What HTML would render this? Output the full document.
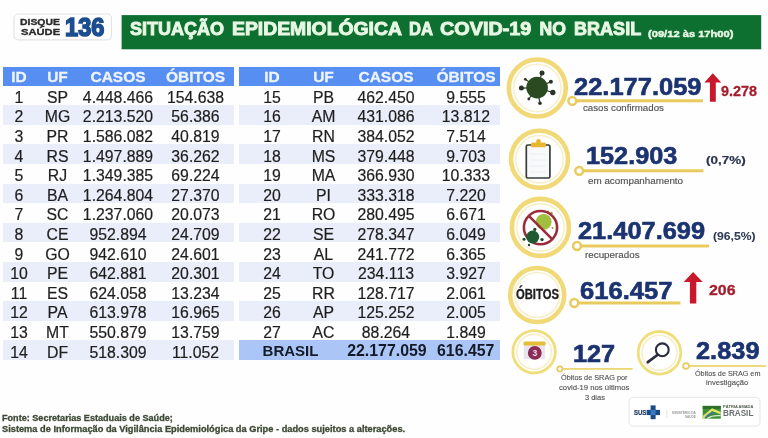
<!DOCTYPE html>
<html><head><meta charset="utf-8">
<style>
*{margin:0;padding:0;box-sizing:border-box}
html,body{width:768px;height:438px;overflow:hidden;background:#fefefe}
body{position:relative;font-family:"Liberation Sans",sans-serif}
.t{position:absolute;white-space:nowrap;transform-origin:0 0}
.c{position:absolute;text-align:center;white-space:nowrap}
.hb{position:absolute;background:#578ef2}
.band{position:absolute;background:#eaeefa}
.bb{position:absolute;background:#abc6f6}
.h{font-weight:bold;font-size:15.5px;color:#eef4ff;-webkit-text-stroke:0.3px #eef4ff}
.d{font-size:15.8px;color:#1e1e1e;-webkit-text-stroke:0.2px #1e1e1e}
.b{font-weight:bold;font-size:15px;color:#151a28}
.b2{font-weight:bold;font-size:15.9px;color:#151a28}
svg{position:absolute;left:0;top:0}
#wrap{position:absolute;left:0;top:0;width:768px;height:438px;overflow:hidden;filter:blur(0.3px)}
</style></head><body><div id="wrap">
<svg width="768" height="438" viewBox="0 0 768 438">
 <!-- disque saude box -->
 <rect x="14" y="14" width="97.5" height="25.8" rx="4.5" fill="#fff" stroke="#e3e3e3" stroke-width="1.2"/>
 <!-- green title bar -->
 <rect x="121.6" y="15.1" width="639.6" height="34.2" fill="#0e7030"/>
</svg>
<div class="hb" style="left:3px;top:66.6px;width:230.5px;height:19.0px"></div>
<div class="c h" style="left:-31.0px;top:67.1px;width:100px;height:19.0px;line-height:19.0px">ID</div>
<div class="c h" style="left:7.5px;top:67.1px;width:100px;height:19.0px;line-height:19.0px">UF</div>
<div class="c h" style="left:68.0px;top:67.1px;width:100px;height:19.0px;line-height:19.0px">CASOS</div>
<div class="c h" style="left:145.5px;top:67.1px;width:100px;height:19.0px;line-height:19.0px">ÓBITOS</div>
<div class="hb" style="left:239px;top:66.6px;width:261px;height:19.0px"></div>
<div class="c h" style="left:222.0px;top:67.1px;width:100px;height:19.0px;line-height:19.0px">ID</div>
<div class="c h" style="left:273.5px;top:67.1px;width:100px;height:19.0px;line-height:19.0px">UF</div>
<div class="c h" style="left:336.0px;top:67.1px;width:100px;height:19.0px;line-height:19.0px">CASOS</div>
<div class="c h" style="left:416.0px;top:67.1px;width:100px;height:19.0px;line-height:19.0px">ÓBITOS</div>
<div class="c d" style="left:-31.0px;top:87.7px;width:100px;height:19.6px;line-height:19.6px">1</div>
<div class="c d" style="left:7.5px;top:87.7px;width:100px;height:19.6px;line-height:19.6px">SP</div>
<div class="c d" style="left:68.0px;top:87.7px;width:100px;height:19.6px;line-height:19.6px">4.448.466</div>
<div class="c d" style="left:145.5px;top:87.7px;width:100px;height:19.6px;line-height:19.6px">154.638</div>
<div class="band" style="left:3px;top:105.2px;width:230.5px;height:19.6px"></div>
<div class="c d" style="left:-31.0px;top:107.3px;width:100px;height:19.6px;line-height:19.6px">2</div>
<div class="c d" style="left:7.5px;top:107.3px;width:100px;height:19.6px;line-height:19.6px">MG</div>
<div class="c d" style="left:68.0px;top:107.3px;width:100px;height:19.6px;line-height:19.6px">2.213.520</div>
<div class="c d" style="left:145.5px;top:107.3px;width:100px;height:19.6px;line-height:19.6px">56.386</div>
<div class="c d" style="left:-31.0px;top:126.9px;width:100px;height:19.6px;line-height:19.6px">3</div>
<div class="c d" style="left:7.5px;top:126.9px;width:100px;height:19.6px;line-height:19.6px">PR</div>
<div class="c d" style="left:68.0px;top:126.9px;width:100px;height:19.6px;line-height:19.6px">1.586.082</div>
<div class="c d" style="left:145.5px;top:126.9px;width:100px;height:19.6px;line-height:19.6px">40.819</div>
<div class="band" style="left:3px;top:144.4px;width:230.5px;height:19.6px"></div>
<div class="c d" style="left:-31.0px;top:146.5px;width:100px;height:19.6px;line-height:19.6px">4</div>
<div class="c d" style="left:7.5px;top:146.5px;width:100px;height:19.6px;line-height:19.6px">RS</div>
<div class="c d" style="left:68.0px;top:146.5px;width:100px;height:19.6px;line-height:19.6px">1.497.889</div>
<div class="c d" style="left:145.5px;top:146.5px;width:100px;height:19.6px;line-height:19.6px">36.262</div>
<div class="c d" style="left:-31.0px;top:166.1px;width:100px;height:19.6px;line-height:19.6px">5</div>
<div class="c d" style="left:7.5px;top:166.1px;width:100px;height:19.6px;line-height:19.6px">RJ</div>
<div class="c d" style="left:68.0px;top:166.1px;width:100px;height:19.6px;line-height:19.6px">1.349.385</div>
<div class="c d" style="left:145.5px;top:166.1px;width:100px;height:19.6px;line-height:19.6px">69.224</div>
<div class="band" style="left:3px;top:183.6px;width:230.5px;height:19.6px"></div>
<div class="c d" style="left:-31.0px;top:185.7px;width:100px;height:19.6px;line-height:19.6px">6</div>
<div class="c d" style="left:7.5px;top:185.7px;width:100px;height:19.6px;line-height:19.6px">BA</div>
<div class="c d" style="left:68.0px;top:185.7px;width:100px;height:19.6px;line-height:19.6px">1.264.804</div>
<div class="c d" style="left:145.5px;top:185.7px;width:100px;height:19.6px;line-height:19.6px">27.370</div>
<div class="c d" style="left:-31.0px;top:205.3px;width:100px;height:19.6px;line-height:19.6px">7</div>
<div class="c d" style="left:7.5px;top:205.3px;width:100px;height:19.6px;line-height:19.6px">SC</div>
<div class="c d" style="left:68.0px;top:205.3px;width:100px;height:19.6px;line-height:19.6px">1.237.060</div>
<div class="c d" style="left:145.5px;top:205.3px;width:100px;height:19.6px;line-height:19.6px">20.073</div>
<div class="band" style="left:3px;top:222.8px;width:230.5px;height:19.6px"></div>
<div class="c d" style="left:-31.0px;top:224.9px;width:100px;height:19.6px;line-height:19.6px">8</div>
<div class="c d" style="left:7.5px;top:224.9px;width:100px;height:19.6px;line-height:19.6px">CE</div>
<div class="c d" style="left:68.0px;top:224.9px;width:100px;height:19.6px;line-height:19.6px">952.894</div>
<div class="c d" style="left:145.5px;top:224.9px;width:100px;height:19.6px;line-height:19.6px">24.709</div>
<div class="c d" style="left:-31.0px;top:244.5px;width:100px;height:19.6px;line-height:19.6px">9</div>
<div class="c d" style="left:7.5px;top:244.5px;width:100px;height:19.6px;line-height:19.6px">GO</div>
<div class="c d" style="left:68.0px;top:244.5px;width:100px;height:19.6px;line-height:19.6px">942.610</div>
<div class="c d" style="left:145.5px;top:244.5px;width:100px;height:19.6px;line-height:19.6px">24.601</div>
<div class="band" style="left:3px;top:262.0px;width:230.5px;height:19.6px"></div>
<div class="c d" style="left:-31.0px;top:264.1px;width:100px;height:19.6px;line-height:19.6px">10</div>
<div class="c d" style="left:7.5px;top:264.1px;width:100px;height:19.6px;line-height:19.6px">PE</div>
<div class="c d" style="left:68.0px;top:264.1px;width:100px;height:19.6px;line-height:19.6px">642.881</div>
<div class="c d" style="left:145.5px;top:264.1px;width:100px;height:19.6px;line-height:19.6px">20.301</div>
<div class="c d" style="left:-31.0px;top:283.7px;width:100px;height:19.6px;line-height:19.6px">11</div>
<div class="c d" style="left:7.5px;top:283.7px;width:100px;height:19.6px;line-height:19.6px">ES</div>
<div class="c d" style="left:68.0px;top:283.7px;width:100px;height:19.6px;line-height:19.6px">624.058</div>
<div class="c d" style="left:145.5px;top:283.7px;width:100px;height:19.6px;line-height:19.6px">13.234</div>
<div class="band" style="left:3px;top:301.2px;width:230.5px;height:19.6px"></div>
<div class="c d" style="left:-31.0px;top:303.3px;width:100px;height:19.6px;line-height:19.6px">12</div>
<div class="c d" style="left:7.5px;top:303.3px;width:100px;height:19.6px;line-height:19.6px">PA</div>
<div class="c d" style="left:68.0px;top:303.3px;width:100px;height:19.6px;line-height:19.6px">613.978</div>
<div class="c d" style="left:145.5px;top:303.3px;width:100px;height:19.6px;line-height:19.6px">16.965</div>
<div class="c d" style="left:-31.0px;top:322.9px;width:100px;height:19.6px;line-height:19.6px">13</div>
<div class="c d" style="left:7.5px;top:322.9px;width:100px;height:19.6px;line-height:19.6px">MT</div>
<div class="c d" style="left:68.0px;top:322.9px;width:100px;height:19.6px;line-height:19.6px">550.879</div>
<div class="c d" style="left:145.5px;top:322.9px;width:100px;height:19.6px;line-height:19.6px">13.759</div>
<div class="band" style="left:3px;top:340.4px;width:230.5px;height:19.6px"></div>
<div class="c d" style="left:-31.0px;top:342.5px;width:100px;height:19.6px;line-height:19.6px">14</div>
<div class="c d" style="left:7.5px;top:342.5px;width:100px;height:19.6px;line-height:19.6px">DF</div>
<div class="c d" style="left:68.0px;top:342.5px;width:100px;height:19.6px;line-height:19.6px">518.309</div>
<div class="c d" style="left:145.5px;top:342.5px;width:100px;height:19.6px;line-height:19.6px">11.052</div>
<div class="c d" style="left:222.0px;top:87.7px;width:100px;height:19.6px;line-height:19.6px">15</div>
<div class="c d" style="left:273.5px;top:87.7px;width:100px;height:19.6px;line-height:19.6px">PB</div>
<div class="c d" style="left:336.0px;top:87.7px;width:100px;height:19.6px;line-height:19.6px">462.450</div>
<div class="c d" style="left:416.0px;top:87.7px;width:100px;height:19.6px;line-height:19.6px">9.555</div>
<div class="band" style="left:239px;top:105.2px;width:261px;height:19.6px"></div>
<div class="c d" style="left:222.0px;top:107.3px;width:100px;height:19.6px;line-height:19.6px">16</div>
<div class="c d" style="left:273.5px;top:107.3px;width:100px;height:19.6px;line-height:19.6px">AM</div>
<div class="c d" style="left:336.0px;top:107.3px;width:100px;height:19.6px;line-height:19.6px">431.086</div>
<div class="c d" style="left:416.0px;top:107.3px;width:100px;height:19.6px;line-height:19.6px">13.812</div>
<div class="c d" style="left:222.0px;top:126.9px;width:100px;height:19.6px;line-height:19.6px">17</div>
<div class="c d" style="left:273.5px;top:126.9px;width:100px;height:19.6px;line-height:19.6px">RN</div>
<div class="c d" style="left:336.0px;top:126.9px;width:100px;height:19.6px;line-height:19.6px">384.052</div>
<div class="c d" style="left:416.0px;top:126.9px;width:100px;height:19.6px;line-height:19.6px">7.514</div>
<div class="band" style="left:239px;top:144.4px;width:261px;height:19.6px"></div>
<div class="c d" style="left:222.0px;top:146.5px;width:100px;height:19.6px;line-height:19.6px">18</div>
<div class="c d" style="left:273.5px;top:146.5px;width:100px;height:19.6px;line-height:19.6px">MS</div>
<div class="c d" style="left:336.0px;top:146.5px;width:100px;height:19.6px;line-height:19.6px">379.448</div>
<div class="c d" style="left:416.0px;top:146.5px;width:100px;height:19.6px;line-height:19.6px">9.703</div>
<div class="c d" style="left:222.0px;top:166.1px;width:100px;height:19.6px;line-height:19.6px">19</div>
<div class="c d" style="left:273.5px;top:166.1px;width:100px;height:19.6px;line-height:19.6px">MA</div>
<div class="c d" style="left:336.0px;top:166.1px;width:100px;height:19.6px;line-height:19.6px">366.930</div>
<div class="c d" style="left:416.0px;top:166.1px;width:100px;height:19.6px;line-height:19.6px">10.333</div>
<div class="band" style="left:239px;top:183.6px;width:261px;height:19.6px"></div>
<div class="c d" style="left:222.0px;top:185.7px;width:100px;height:19.6px;line-height:19.6px">20</div>
<div class="c d" style="left:273.5px;top:185.7px;width:100px;height:19.6px;line-height:19.6px">PI</div>
<div class="c d" style="left:336.0px;top:185.7px;width:100px;height:19.6px;line-height:19.6px">333.318</div>
<div class="c d" style="left:416.0px;top:185.7px;width:100px;height:19.6px;line-height:19.6px">7.220</div>
<div class="c d" style="left:222.0px;top:205.3px;width:100px;height:19.6px;line-height:19.6px">21</div>
<div class="c d" style="left:273.5px;top:205.3px;width:100px;height:19.6px;line-height:19.6px">RO</div>
<div class="c d" style="left:336.0px;top:205.3px;width:100px;height:19.6px;line-height:19.6px">280.495</div>
<div class="c d" style="left:416.0px;top:205.3px;width:100px;height:19.6px;line-height:19.6px">6.671</div>
<div class="band" style="left:239px;top:222.8px;width:261px;height:19.6px"></div>
<div class="c d" style="left:222.0px;top:224.9px;width:100px;height:19.6px;line-height:19.6px">22</div>
<div class="c d" style="left:273.5px;top:224.9px;width:100px;height:19.6px;line-height:19.6px">SE</div>
<div class="c d" style="left:336.0px;top:224.9px;width:100px;height:19.6px;line-height:19.6px">278.347</div>
<div class="c d" style="left:416.0px;top:224.9px;width:100px;height:19.6px;line-height:19.6px">6.049</div>
<div class="c d" style="left:222.0px;top:244.5px;width:100px;height:19.6px;line-height:19.6px">23</div>
<div class="c d" style="left:273.5px;top:244.5px;width:100px;height:19.6px;line-height:19.6px">AL</div>
<div class="c d" style="left:336.0px;top:244.5px;width:100px;height:19.6px;line-height:19.6px">241.772</div>
<div class="c d" style="left:416.0px;top:244.5px;width:100px;height:19.6px;line-height:19.6px">6.365</div>
<div class="band" style="left:239px;top:262.0px;width:261px;height:19.6px"></div>
<div class="c d" style="left:222.0px;top:264.1px;width:100px;height:19.6px;line-height:19.6px">24</div>
<div class="c d" style="left:273.5px;top:264.1px;width:100px;height:19.6px;line-height:19.6px">TO</div>
<div class="c d" style="left:336.0px;top:264.1px;width:100px;height:19.6px;line-height:19.6px">234.113</div>
<div class="c d" style="left:416.0px;top:264.1px;width:100px;height:19.6px;line-height:19.6px">3.927</div>
<div class="c d" style="left:222.0px;top:283.7px;width:100px;height:19.6px;line-height:19.6px">25</div>
<div class="c d" style="left:273.5px;top:283.7px;width:100px;height:19.6px;line-height:19.6px">RR</div>
<div class="c d" style="left:336.0px;top:283.7px;width:100px;height:19.6px;line-height:19.6px">128.717</div>
<div class="c d" style="left:416.0px;top:283.7px;width:100px;height:19.6px;line-height:19.6px">2.061</div>
<div class="band" style="left:239px;top:301.2px;width:261px;height:19.6px"></div>
<div class="c d" style="left:222.0px;top:303.3px;width:100px;height:19.6px;line-height:19.6px">26</div>
<div class="c d" style="left:273.5px;top:303.3px;width:100px;height:19.6px;line-height:19.6px">AP</div>
<div class="c d" style="left:336.0px;top:303.3px;width:100px;height:19.6px;line-height:19.6px">125.252</div>
<div class="c d" style="left:416.0px;top:303.3px;width:100px;height:19.6px;line-height:19.6px">2.005</div>
<div class="c d" style="left:222.0px;top:322.9px;width:100px;height:19.6px;line-height:19.6px">27</div>
<div class="c d" style="left:273.5px;top:322.9px;width:100px;height:19.6px;line-height:19.6px">AC</div>
<div class="c d" style="left:336.0px;top:322.9px;width:100px;height:19.6px;line-height:19.6px">88.264</div>
<div class="c d" style="left:416.0px;top:322.9px;width:100px;height:19.6px;line-height:19.6px">1.849</div>
<div class="bb" style="left:239px;top:340.4px;width:261px;height:19.6px"></div>
<div class="c b" style="left:240.5px;top:341.2px;width:100px;height:19.6px;line-height:19.6px">BRASIL</div>
<div class="c b2" style="left:336.9px;top:341.2px;width:100px;height:19.6px;line-height:19.6px">22.177.059</div>
<div class="c b2" style="left:415.7px;top:341.2px;width:100px;height:19.6px;line-height:19.6px">616.457</div>
<svg width="768" height="438" viewBox="0 0 768 438">
 <g fill="#fff" stroke="#f1d977">
  <circle cx="537.3" cy="88" r="28.5" stroke-width="4.6"/>
  <circle cx="539.5" cy="159.2" r="28.5" stroke-width="4.6"/>
  <circle cx="540.4" cy="227.4" r="28.5" stroke-width="4.6"/>
  <circle cx="537.2" cy="295" r="27" stroke-width="4.5"/>
  <circle cx="534.1" cy="351.8" r="21.2" stroke-width="2.8" stroke="#f0de7a"/>
  <circle cx="659.5" cy="352.8" r="21.3" stroke-width="2.8" stroke="#f0de7a"/>
 </g>
 <g fill="none" stroke="#f8efca" stroke-width="1.6">
  <circle cx="537.3" cy="88" r="23.75"/>
  <circle cx="539.5" cy="159.2" r="23.75"/>
  <circle cx="540.4" cy="227.4" r="23.75"/>
  <circle cx="537.2" cy="295" r="22.50"/>
  <circle cx="534.1" cy="351.8" r="17.40"/>
  <circle cx="659.5" cy="352.8" r="17.50"/>
 </g>
 <!-- lines -->
 <g fill="#e9ca5c">
  <rect x="572" y="99.3" width="131" height="3"/>
  <rect x="579" y="169.3" width="124.5" height="3"/>
  <rect x="577" y="244.5" width="132" height="3"/>
  <rect x="574" y="301.5" width="106.5" height="3"/>
  <rect x="559.8" y="368" width="72.9" height="1.8" fill="#ecd672"/>
  <rect x="686" y="365.1" width="80" height="1.8" fill="#ecd672"/>
 </g>
 <g fill="#fff" stroke="#e9ca5c">
  <circle cx="572.3" cy="100.9" r="3.9" stroke-width="2.5"/>
  <circle cx="579.2" cy="170.8" r="3.9" stroke-width="2.5"/>
  <circle cx="577" cy="246" r="3.9" stroke-width="2.5"/>
  <circle cx="574.3" cy="303" r="3.9" stroke-width="2.5"/>
  <circle cx="559.8" cy="368.9" r="2.6" stroke-width="1.7"/>
  <circle cx="686" cy="366" r="2.9" stroke-width="1.8"/>
 </g>
 <!-- virus icon -->
 <g stroke="#2b3b24" stroke-width="1.2">
  <line x1="537.1" y1="87.6" x2="542" y2="72.9"/>
  <line x1="537.1" y1="87.6" x2="550.9" y2="81.7"/>
  <line x1="537.1" y1="87.6" x2="552.8" y2="92.5"/>
  <line x1="537.1" y1="87.6" x2="540" y2="103.3"/>
  <line x1="537.1" y1="87.6" x2="528.8" y2="99"/>
  <line x1="537.1" y1="87.6" x2="521.4" y2="88.1"/>
  <line x1="537.1" y1="87.6" x2="525.3" y2="79.3"/>
 </g>
 <g fill="#2b3327">
  <circle cx="542" cy="72.9" r="2.5"/>
  <circle cx="550.9" cy="81.7" r="2"/>
  <circle cx="552.8" cy="92.5" r="2.7"/>
  <circle cx="540" cy="103.3" r="1.8"/>
  <circle cx="528.8" cy="99" r="1.4"/>
  <circle cx="521.4" cy="88.1" r="2.5"/>
  <circle cx="525.3" cy="79.3" r="1.4"/>
 </g>
 <circle cx="537.1" cy="87.6" r="10.8" fill="#2c4a22"/>
 <!-- clipboard -->
 <rect x="526.3" y="145" width="23.6" height="33" rx="1.5" fill="#f7f9fa" stroke="#363d3a" stroke-width="1.7"/>
 <g stroke="#eceef1" stroke-width="1"><line x1="530" y1="154" x2="546" y2="154"/><line x1="530" y1="160" x2="546" y2="160"/><line x1="530" y1="166" x2="546" y2="166"/><line x1="530" y1="172" x2="546" y2="172"/></g>
 <rect x="531" y="142.6" width="15" height="4.6" rx="1.5" fill="#e9b630"/>
 <circle cx="538.5" cy="141.4" r="2.4" fill="#e9b630"/>
 <!-- recovered icon -->
 <circle cx="543.7" cy="221.8" r="7.9" fill="#a2be3e"/>
 <g fill="#b09a4a"><circle cx="551.5" cy="213" r="1.3"/><circle cx="548" cy="211.5" r="1.1"/><circle cx="552.5" cy="228" r="1"/><circle cx="545" cy="231" r="0.9"/></g>
 <circle cx="540.5" cy="227.6" r="16.6" fill="none" stroke="#9b2d3b" stroke-width="2.6"/>
 <line x1="528.8" y1="215.9" x2="552.4" y2="239.4" stroke="#9b2d3b" stroke-width="2.6"/>
 <circle cx="532.7" cy="237" r="6.5" fill="#1f5a30"/>
 <g fill="#1f4a2a"><circle cx="534.8" cy="229.4" r="1.6"/><circle cx="542" cy="239.6" r="1.7"/><circle cx="524" cy="239.2" r="1.5"/><circle cx="529" cy="245" r="1.2"/></g>
 <!-- calendar -->
 <rect x="523.8" y="345" width="21.2" height="14.2" fill="#e9e5ee"/>
 <rect x="523.4" y="341.4" width="22.3" height="4.2" rx="1.5" fill="#e6bd38"/>
 <circle cx="534.8" cy="352.9" r="6.9" fill="#8b2c55"/>
 <text x="534.8" y="356" font-family="Liberation Sans" font-weight="bold" font-size="8.5" fill="#f4dce6" text-anchor="middle">3</text>
 <!-- magnifier -->
 <circle cx="662.3" cy="349.8" r="6.4" fill="none" stroke="#2a2e40" stroke-width="2.1"/>
 <line x1="657.4" y1="355" x2="647.8" y2="362.2" stroke="#2a2e40" stroke-width="2.8" stroke-linecap="round"/>
 <!-- arrows -->
 <polygon points="712.8,73.3 721.3,82.5 715.8,82.5 715.8,101.7 709.9,101.7 709.9,82.5 704.4,82.5" fill="#c8182c"/>
 <polygon points="693.1,272 702.7,282 696.3,282 696.3,303.5 689.9,303.5 689.9,282 683.7,282" fill="#c8182c"/>
 <!-- logo box -->
 <rect x="629" y="397.4" width="131" height="28.8" rx="4.5" fill="#fff" stroke="#ebebeb" stroke-width="1.3"/>
 <rect x="650.6" y="405.4" width="5" height="13.8" fill="#1d4a86"/>
 <rect x="646.6" y="409.9" width="13.4" height="5.2" fill="#1d4a86"/>
 <rect x="650.6" y="409.9" width="5" height="5.2" fill="#3b7cc0"/>
 <line x1="666.8" y1="410" x2="666.8" y2="418" stroke="#ece4cf" stroke-width="1"/>
 <rect x="702.7" y="405.9" width="18.1" height="12.8" fill="#3f8d36"/>
 <rect x="702.7" y="405.9" width="18.1" height="3" fill="#2e6f2a"/>
 <path d="M702.7 416 L712 408.2 L720.8 412 L720.8 414.6 L712 411 L704.5 418.7 L702.7 418.7 Z" fill="#dfe560"/>
 <path d="M704.6 417.6 Q708.5 411.6 715.5 412.2 L714 413.8 Q709 413.6 706.2 418.3 Z" fill="#3f74a8"/>
 <path d="M706.3 418.6 Q710.5 414.2 720.8 415 L720.8 416.3 Q712 415.8 708.6 418.7 Z" fill="#cdeccc"/>
</svg>
<div class="t" style="left:130.00px;top:21.40px;font-size:17.6px;line-height:17.6px;font-weight:bold;color:#e8f7e4;transform:scaleX(1.0228);-webkit-text-stroke:0.9px #e8f7e4;">SITUAÇÃO</div>
<div class="t" style="left:231.50px;top:21.40px;font-size:17.6px;line-height:17.6px;font-weight:bold;color:#e8f7e4;transform:scaleX(1.1004);-webkit-text-stroke:0.9px #e8f7e4;">EPIDEMIOLÓGICA</div>
<div class="t" style="left:408.60px;top:21.40px;font-size:17.6px;line-height:17.6px;font-weight:bold;color:#e8f7e4;transform:scaleX(0.9443);-webkit-text-stroke:0.9px #e8f7e4;">DA</div>
<div class="t" style="left:439.60px;top:21.40px;font-size:17.6px;line-height:17.6px;font-weight:bold;color:#e8f7e4;transform:scaleX(1.1260);-webkit-text-stroke:0.9px #e8f7e4;">COVID-19</div>
<div class="t" style="left:539.60px;top:21.40px;font-size:17.6px;line-height:17.6px;font-weight:bold;color:#e8f7e4;transform:scaleX(1.0000);-webkit-text-stroke:0.9px #e8f7e4;">NO</div>
<div class="t" style="left:573.80px;top:21.40px;font-size:17.6px;line-height:17.6px;font-weight:bold;color:#e8f7e4;transform:scaleX(1.0258);-webkit-text-stroke:0.9px #e8f7e4;">BRASIL</div>
<div class="t" style="left:648.00px;top:28.60px;font-size:9.8px;line-height:9.8px;font-weight:bold;color:#e8f7e4;transform:scaleX(1.1372);-webkit-text-stroke:0.45px #e8f7e4;">(09/12 às 17h00)</div>
<div class="t" style="left:19.80px;top:16.77px;font-size:9.6px;line-height:9.6px;font-weight:bold;color:#2b2b2b;transform:scaleX(1.0841);-webkit-text-stroke:0.35px #2b2b2b;">DISQUE</div>
<div class="t" style="left:20.60px;top:27.47px;font-size:9.6px;line-height:9.6px;font-weight:bold;color:#2b2b2b;transform:scaleX(1.1634);-webkit-text-stroke:0.35px #2b2b2b;">SAÚDE</div>
<div class="t" style="left:64.80px;top:14.70px;font-size:25.4px;line-height:25.4px;font-weight:bold;color:#1c4e8f;transform:scaleX(0.9300);-webkit-text-stroke:1.6px #1c4e8f;">136</div>
<div class="t" style="left:574.20px;top:75.78px;font-size:23.3px;line-height:23.3px;font-weight:bold;color:#1b3370;transform:scaleX(1.0933);-webkit-text-stroke:0.6px #1b3370;">22.177.059</div>
<div class="t" style="left:585.60px;top:145.28px;font-size:23.3px;line-height:23.3px;font-weight:bold;color:#1b3370;transform:scaleX(1.0851);-webkit-text-stroke:0.6px #1b3370;">152.903</div>
<div class="t" style="left:577.90px;top:219.68px;font-size:23.3px;line-height:23.3px;font-weight:bold;color:#1b3370;transform:scaleX(1.0899);-webkit-text-stroke:0.6px #1b3370;">21.407.699</div>
<div class="t" style="left:579.50px;top:279.88px;font-size:23.3px;line-height:23.3px;font-weight:bold;color:#1b3370;transform:scaleX(1.0982);-webkit-text-stroke:0.6px #1b3370;">616.457</div>
<div class="t" style="left:573.40px;top:342.88px;font-size:23.3px;line-height:23.3px;font-weight:bold;color:#1b3370;transform:scaleX(1.0833);-webkit-text-stroke:0.6px #1b3370;">127</div>
<div class="t" style="left:695.80px;top:340.28px;font-size:23.3px;line-height:23.3px;font-weight:bold;color:#1b3370;transform:scaleX(1.0893);-webkit-text-stroke:0.6px #1b3370;">2.839</div>
<div class="t" style="left:721.00px;top:84.23px;font-size:14.2px;line-height:14.2px;font-weight:bold;color:#a51d2d;transform:scaleX(1.0133);-webkit-text-stroke:0.3px #a51d2d;">9.278</div>
<div class="t" style="left:709.00px;top:282.40px;font-size:15px;line-height:15px;font-weight:bold;color:#a51d2d;transform:scaleX(1.0592);-webkit-text-stroke:0.3px #a51d2d;">206</div>
<div class="t" style="left:706.25px;top:155.26px;font-size:10.8px;line-height:10.8px;font-weight:bold;color:#2b3650;transform:scaleX(1.2466);-webkit-text-stroke:0.2px #2b3650;">(0,7%)</div>
<div class="t" style="left:713.00px;top:231.46px;font-size:10.8px;line-height:10.8px;font-weight:bold;color:#2e3a55;transform:scaleX(1.1267);-webkit-text-stroke:0.05px #2e3a55;">(96,5%)</div>
<div class="t" style="left:583.40px;top:102.72px;font-size:9.9px;line-height:9.9px;font-weight:normal;color:#505050;transform:scaleX(0.9826);-webkit-text-stroke:0.15px #505050;">casos confirmados</div>
<div class="t" style="left:587.90px;top:175.82px;font-size:9.9px;line-height:9.9px;font-weight:normal;color:#505050;transform:scaleX(0.9953);-webkit-text-stroke:0.15px #505050;">em acompanhamento</div>
<div class="t" style="left:584.60px;top:250.22px;font-size:9.9px;line-height:9.9px;font-weight:normal;color:#505050;transform:scaleX(0.9939);-webkit-text-stroke:0.15px #505050;">recuperados</div>
<div class="t" style="left:561.00px;top:373.73px;font-size:8.0px;line-height:8.0px;font-weight:normal;color:#505050;transform:scaleX(0.9120);-webkit-text-stroke:0.12px #505050;">Óbitos de SRAG por</div>
<div class="t" style="left:559.40px;top:383.63px;font-size:8.0px;line-height:8.0px;font-weight:normal;color:#505050;transform:scaleX(0.9641);-webkit-text-stroke:0.12px #505050;">covid-19 nos últimos</div>
<div class="t" style="left:584.50px;top:393.73px;font-size:8.0px;line-height:8.0px;font-weight:normal;color:#505050;transform:scaleX(0.9323);-webkit-text-stroke:0.12px #505050;">3 dias</div>
<div class="t" style="left:694.90px;top:369.93px;font-size:8.0px;line-height:8.0px;font-weight:normal;color:#505050;transform:scaleX(0.9024);-webkit-text-stroke:0.12px #505050;">Óbitos de SRAG em</div>
<div class="t" style="left:706.40px;top:378.53px;font-size:8.0px;line-height:8.0px;font-weight:normal;color:#505050;transform:scaleX(0.9467);-webkit-text-stroke:0.12px #505050;">investigação</div>
<div class="t" style="left:516.10px;top:287.52px;font-size:13.8px;line-height:13.8px;font-weight:bold;color:#1e1e1e;transform:scaleX(0.8149);-webkit-text-stroke:0.35px #1e1e1e;">ÓBITOS</div>
<div class="t" style="left:2.20px;top:413.70px;font-size:8.5px;line-height:8.5px;font-weight:bold;color:#3c4934;transform:scaleX(1.0697);-webkit-text-stroke:0.3px #3c4934;">Fonte: Secretarias Estaduais de Saúde;</div>
<div class="t" style="left:2.20px;top:424.60px;font-size:8.5px;line-height:8.5px;font-weight:bold;color:#3c4934;transform:scaleX(1.0889);-webkit-text-stroke:0.3px #3c4934;">Sistema de Informação da Vigilância Epidemiológica da Gripe - dados sujeitos a alterações.</div>
<div class="t" style="left:633.60px;top:409.17px;font-size:7.6px;line-height:7.6px;font-weight:bold;color:#1d3562;transform:scaleX(0.7936);-webkit-text-stroke:0.2px #1d3562;">SUS</div>
<div class="t" style="left:722.60px;top:405.65px;font-size:3.6px;line-height:3.6px;font-weight:bold;color:#4a5a4a;transform:scaleX(1.1041);">PÁTRIA AMADA</div>
<div class="t" style="left:722.60px;top:408.51px;font-size:9.2px;line-height:9.2px;font-weight:bold;color:#6a6f70;transform:scaleX(0.8878);">BRASIL</div>
<div class="t" style="left:671.90px;top:412.46px;font-size:3px;line-height:3px;font-weight:bold;color:#999;transform:scaleX(1.0543);">MINISTÉRIO DA</div>
<div class="t" style="left:684.60px;top:416.29px;font-size:3.2px;line-height:3.2px;font-weight:bold;color:#999;transform:scaleX(0.9551);">SAÚDE</div>
</div></body></html>
